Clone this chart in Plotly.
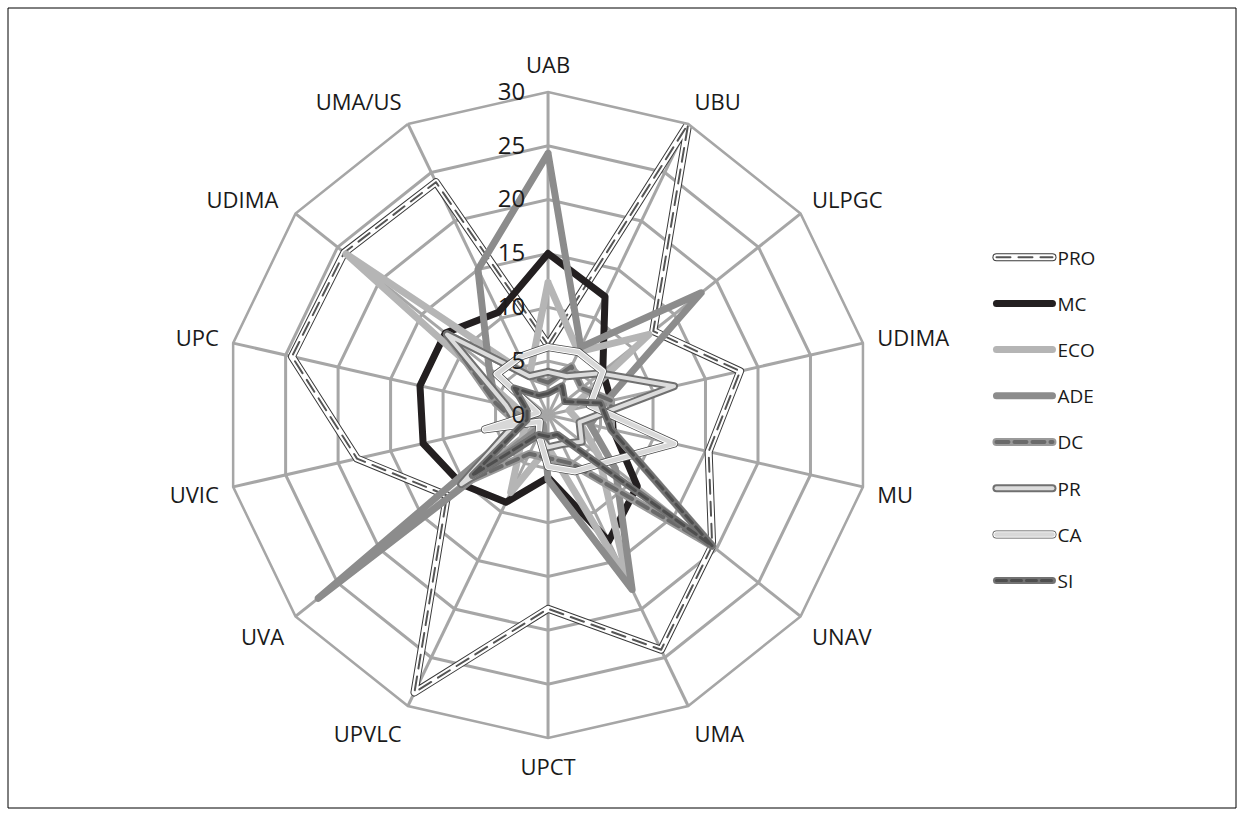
import plotly.graph_objects as go

# ---------------- data ----------------
categories = ["UAB", "UBU", "ULPGC", "UDIMA", "MU", "UNAV", "UMA", "UPCT",
              "UPVLC", "UVA", "UVIC", "UPC", "UDIMA ", "UMA/US"]
radial_ticks = [0, 5, 10, 15, 20, 25, 30]

PRO = [6.5, 30, 12.5, 18.3, 15.3, 19.5, 24.2, 18, 28.6, 12, 18.2, 24.4, 24.2, 24]
MC = [15, 12.2, 6.5, 6, 6.2, 10.6, 13, 5.8, 9, 10.3, 11.9, 12.2, 12.2, 10.6]
ECO = [12.3, 6.5, 12, 2, 3, 6, 17, 3, 8, 3, 2, 3, 24, 4]
ADE = [24.3, 7, 18.2, 5.5, 4, 8, 18, 6, 1, 27.3, 2, 5, 7, 15]
DC = [3, 5, 4, 6, 6, 19.5, 5, 4, 4, 10.3, 3, 5, 12, 4]
PR = [4, 4, 6.2, 12, 3, 4, 3, 3, 2, 10.3, 3, 4, 12, 4]
CA = [6.3, 6.5, 6.5, 4, 12, 7, 5.8, 4.8, 2, 1, 6, 1, 6.1, 6]
SI = [2, 3, 2, 5, 6, 19.5, 2, 2, 2, 9, 2, 2, 4, 2]

series_names = ["PRO", "MC", "ECO", "ADE", "DC", "PR", "CA", "SI"]
series_values = [PRO, MC, ECO, ADE, DC, PR, CA, SI]

# ---------------- styles (layered lines imitate compound strokes) ----------------
styles = {
    "PRO": [dict(color="#3a3a3a", width=8), dict(color="#ffffff", width=6),
            dict(color="#555555", width=2, dash="14px,8px")],
    "MC": [dict(color="#231f20", width=7)],
    "ECO": [dict(color="#b5b5b5", width=7)],
    "ADE": [dict(color="#8c8c8c", width=7)],
    "DC": [dict(color="#9a9a9a", width=8), dict(color="#6a6a6a", width=4, dash="12px,6px")],
    "PR": [dict(color="#707070", width=8), dict(color="#dcdcdc", width=4)],
    "CA": [dict(color="#4a4a4a", width=8), dict(color="#ffffff", width=6.5),
           dict(color="#d8d8d8", width=4.5)],
    "SI": [dict(color="#727272", width=7), dict(color="#4e4e4e", width=3, dash="10px,5px")],
}
transparent = dict(color="rgba(0,0,0,0)", width=0)
legend_ids = ["legend", "legend2", "legend3"]

fig = go.Figure()
for name, vals in zip(series_names, series_values):
    layers = styles[name] + [transparent] * (3 - len(styles[name]))
    for k, ln in enumerate(layers):
        fig.add_trace(go.Scatterpolar(
            r=vals + [vals[0]],
            theta=categories + [categories[0]],
            mode="lines",
            line=ln,
            name=name,
            legend=legend_ids[k],
            legendgroup=name + str(k),
            hoverinfo="skip",
        ))

FONT = "Open Sans"
TXT = "#1a1a1a"
GRID = "#a6a6a6"

leg_common = dict(x=0.797, y=0.709, xanchor="left", yanchor="top",
                  bgcolor="rgba(0,0,0,0)", itemwidth=56,
                  tracegroupgap=18.5, itemclick=False, itemdoubleclick=False)

fig.update_layout(
    width=1244, height=819,
    margin=dict(l=0, r=0, t=0, b=0),
    paper_bgcolor="white",
    font=dict(family=FONT, color=TXT),
    polar=dict(
        domain=dict(x=[0.1809, 0.7002], y=[0.0989, 0.8877]),
        bgcolor="white",
        gridshape="linear",
        angularaxis=dict(
            direction="clockwise", rotation=90,
            categoryorder="array", categoryarray=categories,
            showline=True, linecolor=GRID, linewidth=2.5,
            gridcolor=GRID, gridwidth=2.5,
            ticks="outside", ticklen=9, tickcolor="rgba(0,0,0,0)",
            tickfont=dict(size=22, color=TXT, family=FONT),
        ),
        radialaxis=dict(
            range=[0, 30], tickvals=radial_ticks, angle=90,
            side="counterclockwise", tickangle=90,
            showline=False, gridcolor=GRID, gridwidth=2.5,
            ticks="outside", ticklen=14, tickcolor="rgba(0,0,0,0)",
            tickfont=dict(size=24, color=TXT, family=FONT),
        ),
    ),
    legend=dict(**leg_common, font=dict(size=19, color=TXT, family=FONT)),
    legend2=dict(**leg_common, font=dict(size=19, color="rgba(0,0,0,0)", family=FONT)),
    legend3=dict(**leg_common, font=dict(size=19, color="rgba(0,0,0,0)", family=FONT)),
    shapes=[dict(type="rect", xref="paper", yref="paper",
                 x0=8 / 1244, x1=1236 / 1244, y0=11 / 819, y1=811 / 819,
                 line=dict(color="black", width=1), fillcolor="rgba(0,0,0,0)")],
)

post = ("document.body.style.margin='0';"
        "var s=document.createElement('style');"
        "s.innerHTML='.js-line{stroke-linejoin:round;stroke-linecap:round}';"
        "document.head.appendChild(s);")
fig.write_html("out.html", post_script=post, config={"displayModeBar": False})
